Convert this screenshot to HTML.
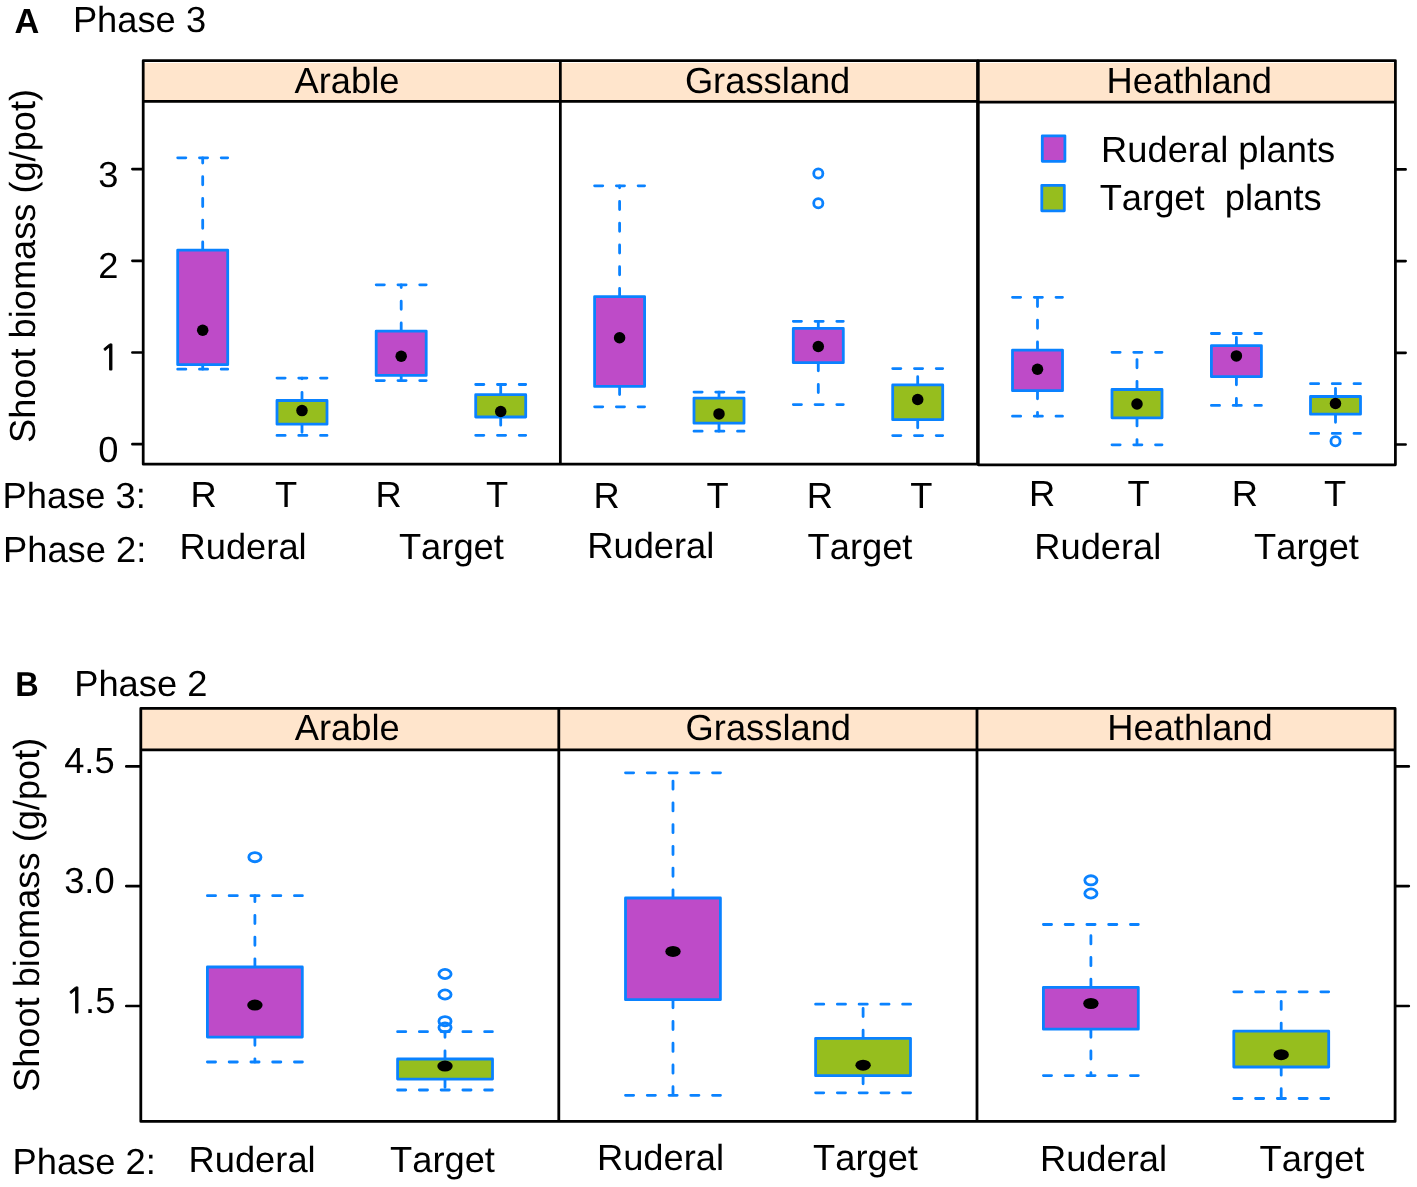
<!DOCTYPE html>
<html lang="en"><head><meta charset="utf-8"><title>Shoot biomass boxplots</title>
<style>
html,body{margin:0;padding:0;background:#fff}
svg{display:block}
text{font-family:"Liberation Sans",Arial,Helvetica,sans-serif;fill:#000;font-kerning:none;text-rendering:geometricPrecision}
.b{fill:none;stroke:#0a82ff;stroke-width:2.8;stroke-linecap:round;stroke-linejoin:round}
.k{fill:none;stroke:#000}
</style></head><body>
<svg width="1417" height="1187" viewBox="0 0 1417 1187">
<rect width="1417" height="1187" fill="#fff"/>
<rect x="143.2" y="62.9" width="1252.2" height="39.3" fill="#ffe5cc"/>
<g class="k" stroke-width="2.75" stroke-linejoin="round">
<rect x="143.2" y="60.5" width="834.30" height="403.7"/>
<rect x="978.3" y="60.5" width="417.10" height="404.3"/>
<path d="M143.2 101.4H977.9M977.9 102.2H1395.4M560.35 60.5V464.2"/>
</g>
<g class="k" stroke-width="2.7" stroke-linecap="round">
<path d="M132.4 169.1H142.8M1395.8 169.4H1405.6M132.4 260.8H142.8M1395.8 261.1H1405.6M132.4 352.5H142.8M1395.8 352.8H1405.6M132.4 444.2H142.8M1395.8 444.5H1405.6"/>
</g>
<text x="118.5" y="186.6" font-size="36.3" text-anchor="end">3</text>
<text x="118.5" y="278.3" font-size="36.3" text-anchor="end">2</text>
<text x="118.5" y="461.7" font-size="36.3" text-anchor="end">0</text>
<text y="370.0" font-size="36.3"><tspan x="99.0" font-size="35.2" font-family="NanumGothic,'Liberation Sans',sans-serif" stroke="#000" stroke-width="0.9">1</tspan></text>
<text x="14.5" y="32.9" font-size="34.9" font-weight="bold" textLength="24.8" lengthAdjust="spacingAndGlyphs">A</text>
<text x="72.9" y="31.9" font-size="36.3">Phase 3</text>
<text x="347.0" y="92.9" font-size="36.3" text-anchor="middle">Arable</text>
<text x="767.6" y="92.9" font-size="36.3" text-anchor="middle">Grassland</text>
<text x="1189.3" y="92.9" font-size="36.3" text-anchor="middle">Heathland</text>
<text transform="translate(35.2 443.0) rotate(-90)" font-size="36.2">Shoot biomass (g/pot)</text>
<text x="2.6" y="508.0" font-size="36.3">Phase 3:</text>
<text x="3.0" y="561.5" font-size="36.3">Phase 2:</text>
<text x="203.7" y="507.3" font-size="36.3" text-anchor="middle">R</text>
<text x="286.2" y="507.3" font-size="36.3" text-anchor="middle">T</text>
<text x="388.7" y="507.3" font-size="36.3" text-anchor="middle">R</text>
<text x="497.0" y="507.3" font-size="36.3" text-anchor="middle">T</text>
<text x="606.6" y="507.5" font-size="36.3" text-anchor="middle">R</text>
<text x="717.7" y="507.5" font-size="36.3" text-anchor="middle">T</text>
<text x="819.8" y="507.5" font-size="36.3" text-anchor="middle">R</text>
<text x="921.4" y="507.5" font-size="36.3" text-anchor="middle">T</text>
<text x="1042.0" y="505.9" font-size="36.3" text-anchor="middle">R</text>
<text x="1138.7" y="505.9" font-size="36.3" text-anchor="middle">T</text>
<text x="1244.8" y="505.9" font-size="36.3" text-anchor="middle">R</text>
<text x="1335.1" y="505.9" font-size="36.3" text-anchor="middle">T</text>
<text x="243.1" y="558.7" font-size="36.3" text-anchor="middle">Ruderal</text>
<text x="451.4" y="558.5" font-size="36.3" text-anchor="middle">Target</text>
<text x="650.8" y="557.7" font-size="36.3" text-anchor="middle">Ruderal</text>
<text x="860.0" y="558.5" font-size="36.3" text-anchor="middle">Target</text>
<text x="1097.8" y="559.2" font-size="36.3" text-anchor="middle">Ruderal</text>
<text x="1306.5" y="558.7" font-size="36.3" text-anchor="middle">Target</text>
<g class="b"><rect x="1042.3" y="135.8" width="22.6" height="25.5" fill="#be4bc8"/><rect x="1041.8" y="185.3" width="22.5" height="25.5" fill="#96be1e"/></g>
<text x="1101.1" y="162.0" font-size="36.3">Ruderal plants</text>
<text x="1099.7" y="210.0" font-size="36.3">Target  plants</text>
<g class="b">
<path d="M202.7 250.1V157.8M202.7 364.7V369.2" stroke-dasharray="8.16 13.6"/>
<path d="M177.7 157.8H227.7M177.7 369.2H227.7" stroke-dasharray="8.16 13.6"/>
<rect x="177.7" y="250.1" width="50.0" height="114.6" fill="#be4bc8"/>
<ellipse cx="202.7" cy="330.3" rx="5.75" ry="5.75" fill="#000" stroke="none"/>
<path d="M302.0 400.5V378.1M302.0 424.2V435.4" stroke-dasharray="8.16 13.6"/>
<path d="M277.0 378.1H327.0M277.0 435.4H327.0" stroke-dasharray="8.16 13.6"/>
<rect x="277.0" y="400.5" width="50.0" height="23.7" fill="#96be1e"/>
<ellipse cx="302.0" cy="410.6" rx="5.75" ry="5.75" fill="#000" stroke="none"/>
<path d="M401.2 331.1V284.8M401.2 375.4V380.6" stroke-dasharray="8.16 13.6"/>
<path d="M376.2 284.8H426.2M376.2 380.6H426.2" stroke-dasharray="8.16 13.6"/>
<rect x="376.2" y="331.1" width="50.0" height="44.3" fill="#be4bc8"/>
<ellipse cx="401.2" cy="356.3" rx="5.75" ry="5.75" fill="#000" stroke="none"/>
<path d="M500.7 394.7V384.5M500.7 417.0V435.3" stroke-dasharray="8.16 13.6"/>
<path d="M475.7 384.5H525.7M475.7 435.3H525.7" stroke-dasharray="8.16 13.6"/>
<rect x="475.7" y="394.7" width="50.0" height="22.3" fill="#96be1e"/>
<ellipse cx="500.7" cy="411.5" rx="5.75" ry="5.75" fill="#000" stroke="none"/>
<path d="M619.6 296.6V185.8M619.6 386.4V406.8" stroke-dasharray="8.16 13.6"/>
<path d="M594.6 185.8H644.6M594.6 406.8H644.6" stroke-dasharray="8.16 13.6"/>
<rect x="594.6" y="296.6" width="50.0" height="89.8" fill="#be4bc8"/>
<ellipse cx="619.6" cy="337.8" rx="5.75" ry="5.75" fill="#000" stroke="none"/>
<path d="M719.0 398.1V392.1M719.0 423.2V431.2" stroke-dasharray="8.16 13.6"/>
<path d="M694.0 392.1H744.0M694.0 431.2H744.0" stroke-dasharray="8.16 13.6"/>
<rect x="694.0" y="398.1" width="50.0" height="25.1" fill="#96be1e"/>
<ellipse cx="719.0" cy="413.9" rx="5.75" ry="5.75" fill="#000" stroke="none"/>
<path d="M818.3 328.4V321.3M818.3 362.7V404.6" stroke-dasharray="8.16 13.6"/>
<path d="M793.3 321.3H843.3M793.3 404.6H843.3" stroke-dasharray="8.16 13.6"/>
<rect x="793.3" y="328.4" width="50.0" height="34.3" fill="#be4bc8"/>
<ellipse cx="818.3" cy="346.5" rx="5.75" ry="5.75" fill="#000" stroke="none"/>
<ellipse cx="818.3" cy="173.5" rx="4.58" ry="4.58"/>
<ellipse cx="818.3" cy="203.2" rx="4.58" ry="4.58"/>
<path d="M917.7 384.9V368.6M917.7 419.7V435.6" stroke-dasharray="8.16 13.6"/>
<path d="M892.7 368.6H942.7M892.7 435.6H942.7" stroke-dasharray="8.16 13.6"/>
<rect x="892.7" y="384.9" width="50.0" height="34.8" fill="#96be1e"/>
<ellipse cx="917.7" cy="399.5" rx="5.75" ry="5.75" fill="#000" stroke="none"/>
<path d="M1037.5 350.1V297.3M1037.5 390.7V416.2" stroke-dasharray="8.16 13.6"/>
<path d="M1012.5 297.3H1062.5M1012.5 416.2H1062.5" stroke-dasharray="8.16 13.6"/>
<rect x="1012.5" y="350.1" width="50.0" height="40.6" fill="#be4bc8"/>
<ellipse cx="1037.5" cy="369.3" rx="5.75" ry="5.75" fill="#000" stroke="none"/>
<path d="M1137.0 389.5V352.3M1137.0 417.8V444.8" stroke-dasharray="8.16 13.6"/>
<path d="M1112.0 352.3H1162.0M1112.0 444.8H1162.0" stroke-dasharray="8.16 13.6"/>
<rect x="1112.0" y="389.5" width="50.0" height="28.3" fill="#96be1e"/>
<ellipse cx="1137.0" cy="404.0" rx="5.75" ry="5.75" fill="#000" stroke="none"/>
<path d="M1236.4 345.6V333.5M1236.4 376.7V405.4" stroke-dasharray="8.16 13.6"/>
<path d="M1211.4 333.5H1261.4M1211.4 405.4H1261.4" stroke-dasharray="8.16 13.6"/>
<rect x="1211.4" y="345.6" width="50.0" height="31.1" fill="#be4bc8"/>
<ellipse cx="1236.4" cy="355.9" rx="5.75" ry="5.75" fill="#000" stroke="none"/>
<path d="M1335.5 396.5V383.7M1335.5 414.2V433.4" stroke-dasharray="8.16 13.6"/>
<path d="M1310.5 383.7H1360.5M1310.5 433.4H1360.5" stroke-dasharray="8.16 13.6"/>
<rect x="1310.5" y="396.5" width="50.0" height="17.7" fill="#96be1e"/>
<ellipse cx="1335.5" cy="403.5" rx="5.75" ry="5.75" fill="#000" stroke="none"/>
<ellipse cx="1335.5" cy="441.2" rx="4.58" ry="4.58"/>
</g>
<rect x="140.8" y="708.4" width="1254.3" height="41.5" fill="#ffe5cc"/>
<g class="k" stroke-width="2.8" stroke-linejoin="round">
<rect x="140.8" y="708.4" width="1254.3" height="413.0"/>
<path d="M140.8 749.9H1395.1M558.8 708.4V1121.4M977.0 708.4V1121.4"/>
</g>
<g class="k" stroke-width="2.7" stroke-linecap="round">
<path d="M126.3 766.4H140.4M1395.5 766.4H1408.8M126.3 886.1H140.4M1395.5 886.1H1408.8M126.3 1006.0H140.4M1395.5 1006.0H1408.8"/>
</g>
<text x="114.6" y="772.8" font-size="36.3" text-anchor="end">4.5</text>
<text x="114.6" y="892.9" font-size="36.3" text-anchor="end">3.0</text>
<text y="1012.6" font-size="36.3"><tspan x="65.0" font-size="35.2" font-family="NanumGothic,'Liberation Sans',sans-serif" stroke="#000" stroke-width="0.9">1</tspan><tspan x="85.1">.5</tspan></text>
<text x="15.3" y="696.3" font-size="34.7" font-weight="bold" textLength="23.5" lengthAdjust="spacingAndGlyphs">B</text>
<text x="74.2" y="696.2" font-size="36.3">Phase 2</text>
<text x="347.2" y="740.4" font-size="36.3" text-anchor="middle">Arable</text>
<text x="768.3" y="740.4" font-size="36.3" text-anchor="middle">Grassland</text>
<text x="1190.0" y="740.4" font-size="36.3" text-anchor="middle">Heathland</text>
<text transform="translate(38.7 1092.0) rotate(-90)" font-size="36.22">Shoot biomass (g/pot)</text>
<text x="12.5" y="1174.2" font-size="36.3">Phase 2:</text>
<text x="252.1" y="1172.0" font-size="36.3" text-anchor="middle">Ruderal</text>
<text x="442.5" y="1172.0" font-size="36.3" text-anchor="middle">Target</text>
<text x="660.5" y="1170.4" font-size="36.3" text-anchor="middle">Ruderal</text>
<text x="865.5" y="1170.4" font-size="36.3" text-anchor="middle">Target</text>
<text x="1103.5" y="1170.8" font-size="36.3" text-anchor="middle">Ruderal</text>
<text x="1312.0" y="1170.8" font-size="36.3" text-anchor="middle">Target</text>
<g class="b">
<path d="M254.9 967.0V895.7M254.9 1037.1V1062.0" stroke-dasharray="8.16 13.6"/>
<path d="M207.4 895.7H302.4M207.4 1062.0H302.4" stroke-dasharray="8.16 13.6"/>
<rect x="207.4" y="967.0" width="94.9" height="70.1" fill="#be4bc8"/>
<ellipse cx="254.9" cy="1005.1" rx="7.7" ry="5.5" fill="#000" stroke="none"/>
<ellipse cx="254.9" cy="857.2" rx="6.1" ry="4.55"/>
<path d="M445.0 1059.0V1031.7M445.0 1079.1V1090.0" stroke-dasharray="8.16 13.6"/>
<path d="M397.6 1031.7H492.4M397.6 1090.0H492.4" stroke-dasharray="8.16 13.6"/>
<rect x="397.6" y="1059.0" width="94.9" height="20.1" fill="#96be1e"/>
<ellipse cx="445.0" cy="1066.1" rx="7.7" ry="5.5" fill="#000" stroke="none"/>
<ellipse cx="445.0" cy="974.0" rx="6.1" ry="4.55"/>
<ellipse cx="445.0" cy="994.5" rx="6.1" ry="4.55"/>
<ellipse cx="445.0" cy="1021.2" rx="6.1" ry="4.55"/>
<ellipse cx="445.0" cy="1027.5" rx="6.1" ry="4.55"/>
<path d="M673.0 898.0V772.8M673.0 999.7V1095.3" stroke-dasharray="8.16 13.6"/>
<path d="M625.5 772.8H720.5M625.5 1095.3H720.5" stroke-dasharray="8.16 13.6"/>
<rect x="625.5" y="898.0" width="94.9" height="101.7" fill="#be4bc8"/>
<ellipse cx="673.0" cy="951.4" rx="7.7" ry="5.5" fill="#000" stroke="none"/>
<path d="M863.1 1038.3V1004.2M863.1 1075.7V1092.8" stroke-dasharray="8.16 13.6"/>
<path d="M815.6 1004.2H910.6M815.6 1092.8H910.6" stroke-dasharray="8.16 13.6"/>
<rect x="815.6" y="1038.3" width="94.9" height="37.4" fill="#96be1e"/>
<ellipse cx="863.1" cy="1065.2" rx="7.7" ry="5.5" fill="#000" stroke="none"/>
<path d="M1090.9 987.4V924.5M1090.9 1029.2V1075.6" stroke-dasharray="8.16 13.6"/>
<path d="M1043.4 924.5H1138.3M1043.4 1075.6H1138.3" stroke-dasharray="8.16 13.6"/>
<rect x="1043.4" y="987.4" width="94.9" height="41.8" fill="#be4bc8"/>
<ellipse cx="1090.9" cy="1003.5" rx="7.7" ry="5.5" fill="#000" stroke="none"/>
<ellipse cx="1090.9" cy="880.3" rx="6.1" ry="4.55"/>
<ellipse cx="1090.9" cy="893.5" rx="6.1" ry="4.55"/>
<path d="M1281.2 1031.2V991.8M1281.2 1067.0V1098.5" stroke-dasharray="8.16 13.6"/>
<path d="M1233.8 991.8H1328.7M1233.8 1098.5H1328.7" stroke-dasharray="8.16 13.6"/>
<rect x="1233.8" y="1031.2" width="94.9" height="35.8" fill="#96be1e"/>
<ellipse cx="1281.2" cy="1054.7" rx="7.7" ry="5.5" fill="#000" stroke="none"/>
</g>
</svg></body></html>
